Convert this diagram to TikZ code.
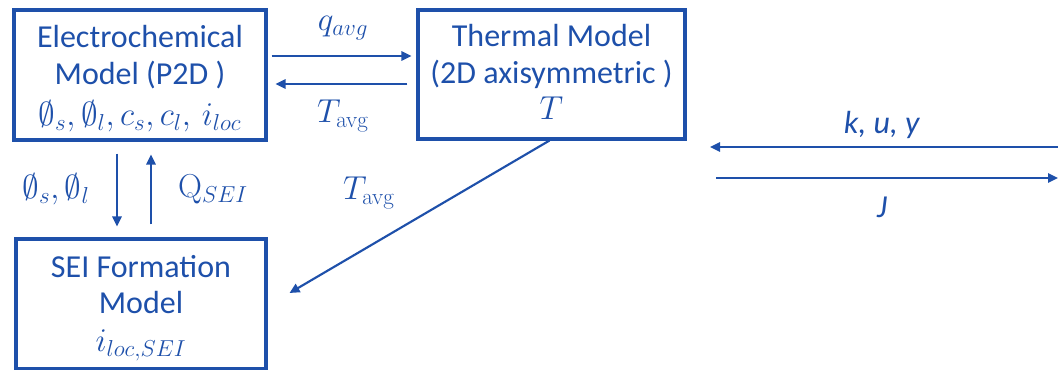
\documentclass[tikz,border=0pt]{standalone}
\usepackage[no-math]{fontspec}
\setmainfont{Carlito}
\usetikzlibrary{arrows.meta,calc}
\definecolor{dblue}{RGB}{30,80,170}
\tikzset{
  mbox/.style={draw=dblue, line width=2.3pt, inner sep=0pt},
  arr/.style={draw=dblue, line width=1.6pt, -{Triangle[length=7.5pt,width=7pt]}},
  lbl/.style={text=dblue, font=\fontsize{24}{28}\selectfont, inner sep=0pt},
  mlbl/.style={text=dblue, font=\fontsize{25}{28}\selectfont, inner sep=0pt},
}
\begin{document}
\begin{tikzpicture}[x=0.75pt,y=-0.75pt]
\useasboundingbox (0,0) rectangle (1058,370);
% boxes
\node[mbox, minimum width=252*0.75pt, minimum height=130*0.75pt] (ec) at (140,75) {};
\node[mbox, minimum width=267*0.75pt, minimum height=129*0.75pt] (th) at (551.5,74.5) {};
\node[mbox, minimum width=250*0.75pt, minimum height=130*0.75pt] (sei) at (141,304) {};
% box texts
\node[lbl, anchor=base] (ec1) at (140,48) {Electrochemical};
\node[lbl, anchor=base] (ec2) at (140,85) {Model (P2D )};
\node[mlbl, anchor=base] (ec3) at (140,126) {$\emptyset_s,\emptyset_l,c_s,c_l,\,i_{loc}$};
\node[lbl, anchor=base] (th1) at (551.5,47) {Thermal Model};
\node[lbl, anchor=base] (th2) at (551.5,84) {(2D axisymmetric )};
\node[mlbl, anchor=base] (th3) at (551.5,120) {$T$};
\node[lbl, anchor=base] (se1) at (141,278) {SEI Formation};
\node[lbl, anchor=base] (se2) at (141,314) {Model};
\node[mlbl, anchor=base] (se3) at (141,352) {$i_{loc,SEI}$};
% horizontal arrows between EC and thermal
\draw[arr] ($(ec.east)+(4,-19)$) -- ($(th.west)+(-5,-18.5)$);
\draw[arr] ($(th.west)+(-9,9.5)$) -- ($(ec.east)+(8,9)$);
\node[mlbl] (qavg) at (343,28) {$q_{avg}$};
\node[mlbl] (tavg1) at (343,116) {$T_{\mathrm{avg}}$};
% vertical arrows
\draw[arr] ($(ec.south)+(-23,12)$) -- ($(sei.north)+(-24,-11)$);
\draw[arr] ($(sei.north)+(10,-13)$) -- ($(ec.south)+(11,13)$);
\node[mlbl] (phis) at (56,189) {$\emptyset_s,\emptyset_l$};
\node[mlbl] (qsei) at (213,189) {$\mathrm{Q}_{SEI}$};
% diagonal
\draw[arr] ($(th.south)+(-2,0)$) -- ($(sei.east)+(22,-11)$);
\node[mlbl] (tavg2) at (369,193) {$T_{\mathrm{avg}}$};
% right arrows
\coordinate (r1) at (1058,147);
\coordinate (l1) at (710,147);
\coordinate (l2) at (716,178);
\coordinate (r2) at (1058,178);
\draw[arr] (r1) -- (l1);
\draw[arr] (l2) -- (r2);
\node[lbl] (kuy) at (882,125) {\textit{k, u, y}};
\node[lbl] (jj) at (882,207) {\textit{J}};
\end{tikzpicture}
\end{document}
